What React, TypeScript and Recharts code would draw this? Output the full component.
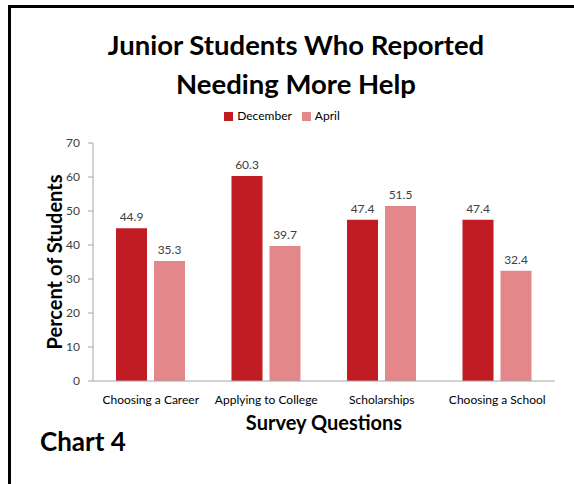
import React from "react";
import { BarChart, Bar, XAxis, YAxis, Legend, LabelList, Label } from "recharts";

const categories = ["Choosing a Career", "Applying to College", "Scholarships", "Choosing a School"];
const december = [44.9, 60.3, 47.4, 47.4];
const april = [35.3, 39.7, 51.5, 32.4];
const yTicks = [0, 10, 20, 30, 40, 50, 60, 70];
const seriesOrder = ["December", "April"];

const data = categories.map((c, i) => ({ name: c, December: december[i], April: april[i] }));

const FONT = "Lato, 'Open Sans', sans-serif";
const DEC = "#C11B24";
const APR = "#E4878A";
const TXT = "#404040";
const AXIS = "#A6A6A6";

export default function App() {
  return (
    <div style={{ position: "fixed", left: 0, top: 0, width: 574, height: 484, overflow: "hidden", background: "#fff", fontFamily: FONT }}>
      <div style={{ position: "absolute", left: 8, top: 5, width: 700, height: 700, borderLeft: "3px solid #000", borderTop: "3px solid #000" }} />
      <div style={{ position: "absolute", left: 0, top: 25, width: 592, textAlign: "center", fontWeight: 700, fontSize: 27.5, lineHeight: "39px", color: "#000" }}>
        Junior Students Who Reported<br />Needing More Help
      </div>
      <div style={{ position: "absolute", left: 40, top: 425, fontWeight: 700, fontSize: 26, color: "#000", lineHeight: "32px" }}>Chart 4</div>
      <div style={{ position: "absolute", left: 0, top: 0 }}>
        <BarChart width={574} height={484} data={data} margin={{ top: 143, right: 19, bottom: 73, left: 0 }} barCategoryGap={23} barGap={7}>
          <Legend
            layout="horizontal"
            verticalAlign="middle"
            align="center"
            iconType="square"
            iconSize={9}
            itemSorter={(item: any) => seriesOrder.indexOf(item.value)}
            wrapperStyle={{ top: 108, left: 0, width: 574, fontSize: 12, fontFamily: FONT, color: "#000" }}
            formatter={(v) => <span style={{ color: "#000" }}>{v}</span>}
          />
          <XAxis
            dataKey="name"
            height={30}
            tickLine={false}
            tickSize={0}
            tickMargin={14}
            stroke={AXIS}
            tick={{ fill: "#000", fontSize: 12, fontFamily: FONT }}
            interval={0}
          >
            <Label value="Survey Questions" position="insideBottom" offset={-19} style={{ fontWeight: 700, fontSize: 20, fill: "#000", fontFamily: FONT }} />
          </XAxis>
          <YAxis
            width={93}
            domain={[0, 70]}
            ticks={yTicks}
            tickSize={5}
            tickMargin={8}
            stroke={AXIS}
            tick={{ fill: TXT, fontSize: 12, fontFamily: FONT }}
          >
            <Label value="Percent of Students" angle={-90} position="insideLeft" offset={55} style={{ textAnchor: "middle", fontWeight: 700, fontSize: 20, fill: "#000", fontFamily: FONT }} />
          </YAxis>
          <Bar dataKey="December" fill={DEC} barSize={31} isAnimationActive={false}>
            <LabelList dataKey="December" position="top" offset={7} style={{ fill: TXT, fontSize: 12, fontFamily: FONT }} />
          </Bar>
          <Bar dataKey="April" fill={APR} barSize={31} isAnimationActive={false}>
            <LabelList dataKey="April" position="top" offset={7} style={{ fill: TXT, fontSize: 12, fontFamily: FONT }} />
          </Bar>
        </BarChart>
      </div>
    </div>
  );
}
